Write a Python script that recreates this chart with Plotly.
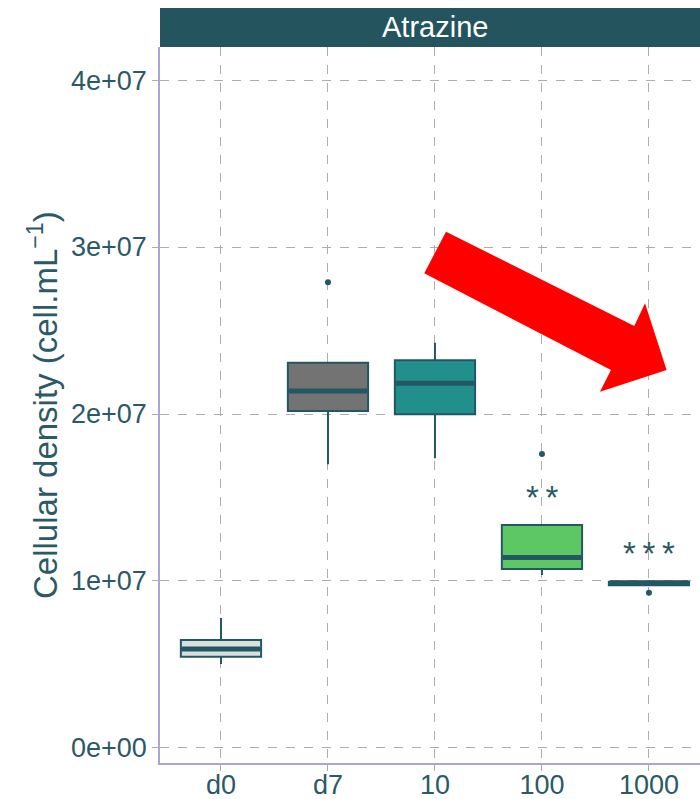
import plotly.graph_objects as go

# ---- data ----
categories = ["d0", "d7", "10", "100", "1000"]
q1 = [5.47e6, 2.018e7, 1.998e7, 1.072e7, 0.975e7]
median = [5.93e6, 2.138e7, 2.184e7, 1.14e7, 0.99e7]
q3 = [6.47e6, 2.307e7, 2.322e7, 1.335e7, 0.995e7]
lower_whisker = [5.03e6, 1.699e7, 1.735e7, 1.036e7, 0.975e7]
upper_whisker = [7.78e6, 2.307e7, 2.427e7, 1.335e7, 0.995e7]
outlier_x = [1, 3, 4]
outlier_y = [2.789e7, 1.76e7, 0.93e7]
fills = ["#dadfdf", "#737373", "#21908c", "#5dc863", "#245764"]
signif_x = [3, 4]
signif_y = [1.533e7, 1.196e7]
signif_labels = ["*\u2009*", "*\u2009*\u2009*"]
y_tickvals = [0, 1e7, 2e7, 3e7, 4e7]
y_ticktext = ["0e+00", "1e+07", "2e+07", "3e+07", "4e+07"]

# arrow polygon (decoration, in axis units)
arrow_x = [2.103, 3.863, 3.963, 4.165, 3.542, 3.645, 1.900]
arrow_y = [3.092e7, 2.527e7, 2.663e7, 2.263e7, 2.134e7, 2.263e7, 2.843e7]

LINE = "#245764"
TXT = "#2b5a66"
FONT = "Liberation Sans, Arial, sans-serif"
BW = 0.75

fig = go.Figure()
for i, c in enumerate(categories):
    fig.add_trace(go.Box(
        x=[i], q1=[q1[i]], median=[median[i]], q3=[q3[i]],
        lowerfence=[lower_whisker[i]], upperfence=[upper_whisker[i]],
        width=BW, whiskerwidth=0, fillcolor=fills[i],
        line=dict(color=LINE, width=2), boxpoints=False,
        showlegend=False, hoverinfo="skip"))
    fig.add_trace(go.Scatter(
        x=[i - BW / 2 + 0.01, i + BW / 2 - 0.01], y=[median[i], median[i]],
        mode="lines", line=dict(color=LINE, width=5),
        showlegend=False, hoverinfo="skip"))

fig.add_trace(go.Scatter(x=outlier_x, y=outlier_y, mode="markers",
                         marker=dict(color=LINE, size=6),
                         showlegend=False, hoverinfo="skip"))

# red arrow
path = "M " + " L ".join(f"{x},{y}" for x, y in zip(arrow_x, arrow_y)) + " Z"
fig.add_shape(type="path", path=path, xref="x", yref="y",
              fillcolor="#ff0000", line=dict(width=0), layer="above")

for x, y, t in zip(signif_x, signif_y, signif_labels):
    fig.add_annotation(x=x, y=y, text=t, showarrow=False, xref="x", yref="y",
                       font=dict(family=FONT, size=33, color=TXT), yshift=-5)

# facet strip
fig.add_shape(type="rect", xref="paper", yref="paper", x0=0, x1=1.2,
              y0=1.0, y1=1 + 39 / 716, fillcolor="#24555f",
              line=dict(width=0), layer="above")
fig.add_annotation(xref="paper", yref="paper", x=0.509, y=1 + 19.5 / 716,
                   text="Atrazine", showarrow=False, yanchor="middle",
                   font=dict(family=FONT, size=29, color="white"))

# y-axis title
fig.add_annotation(xref="paper", yref="paper", x=(43 - 160) / 540,
                   y=(763 - 405) / 716, textangle=-90, showarrow=False,
                   xanchor="center", yanchor="middle",
                   text="Cellular density (cell.mL<sup>\u22121</sup>)",
                   font=dict(family=FONT, size=33, color=TXT))

grid = dict(showgrid=True, gridcolor="#adadad", gridwidth=1, griddash="dash",
            zeroline=False, showline=True, linecolor="#aaa4d8", linewidth=1.5,
            ticks="outside", ticklen=6, tickcolor="#adadad", automargin=False,
            tickfont=dict(family=FONT, size=27, color=TXT))

fig.update_layout(
    width=700, height=799,
    margin=dict(l=160, r=0, t=47, b=36, pad=0),
    paper_bgcolor="white", plot_bgcolor="white",
    xaxis=dict(range=[-0.570, 4.477], tickvals=list(range(len(categories))),
               ticktext=categories, ticklabelstandoff=-9, **grid),
    yaxis=dict(range=[-0.9e6, 4.198e7], tickvals=y_tickvals,
               ticktext=y_ticktext, ticklabelstandoff=0, **grid),
)

fig.write_html("out.html")
